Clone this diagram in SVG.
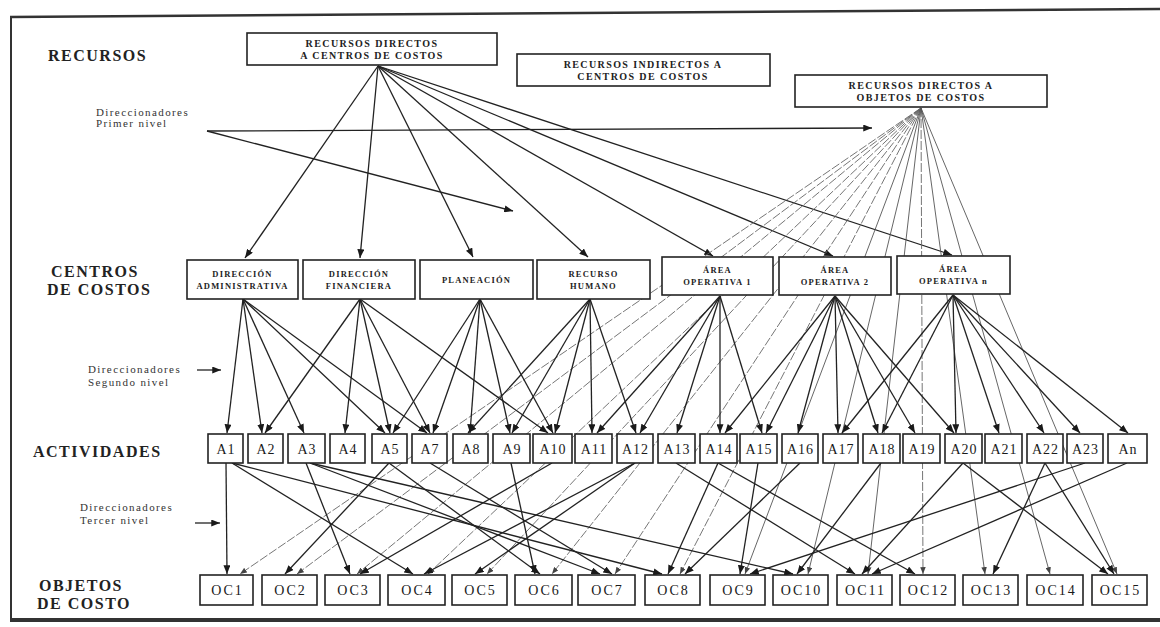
<svg xmlns="http://www.w3.org/2000/svg" width="1160" height="627" viewBox="0 0 1160 627">
<defs>
<marker id="ah" viewBox="0 0 10 8" refX="10" refY="4" markerWidth="9" markerHeight="7" orient="auto" markerUnits="userSpaceOnUse"><path d="M0,0 L10,4 L0,8 z" fill="#1a1a1a"/></marker>
<marker id="ahg" viewBox="0 0 10 8" refX="10" refY="4" markerWidth="7" markerHeight="5.5" orient="auto" markerUnits="userSpaceOnUse"><path d="M0,0 L10,4 L0,8 z" fill="#444"/></marker>
</defs>
<style>
.bx{fill:#fff;stroke:#222;stroke-width:1.6}
.lbl{font-family:"Liberation Serif",serif;font-weight:bold;font-size:16px;fill:#222;letter-spacing:1.5px}
.drv{font-family:"Liberation Serif",serif;font-size:11px;fill:#333;letter-spacing:1.4px}
.top{font-family:"Liberation Serif",serif;font-weight:bold;font-size:10px;letter-spacing:1.4px;text-anchor:middle;fill:#222}
.cc{font-family:"Liberation Serif",serif;font-weight:bold;font-size:8.5px;letter-spacing:1.2px;text-anchor:middle;fill:#222}
.act{font-family:"Liberation Serif",serif;font-size:14px;letter-spacing:1px;text-anchor:middle;fill:#1a1a1a}
.oc{font-family:"Liberation Serif",serif;font-size:14px;letter-spacing:2px;text-anchor:middle;fill:#1a1a1a}
.e{stroke:#222;stroke-width:1.3;fill:none;marker-end:url(#ah)}
.g{stroke:#555;stroke-width:0.9;fill:none;marker-end:url(#ahg)}
.gd{stroke:#666;stroke-width:0.9;fill:none;stroke-dasharray:9 2;marker-end:url(#ahg)}
.fr{stroke:#333;fill:none}
</style>
<rect width="1160" height="627" fill="#fff"/>
<g id="frame">
<line class="fr" x1="10" y1="17" x2="1160" y2="9" stroke-width="2.5"/>
<line class="fr" x1="11" y1="16" x2="11" y2="621" stroke-width="2"/>
<line class="fr" x1="10" y1="620" x2="1160" y2="620" stroke-width="4" stroke="#222"/>
</g>
<g id="labels">
<text class="lbl" x="48" y="61">RECURSOS</text>
<text class="drv" x="96" y="116">Direccionadores</text>
<text class="drv" x="96" y="127">Primer nivel</text>
<text class="lbl" x="51" y="277">CENTROS</text>
<text class="lbl" x="47" y="295">DE COSTOS</text>
<text class="drv" x="88" y="373">Direccionadores</text>
<text class="drv" x="88" y="386">Segundo nivel</text>
<text class="lbl" x="33" y="457">ACTIVIDADES</text>
<text class="drv" x="80" y="511">Direccionadores</text>
<text class="drv" x="80" y="524">Tercer nivel</text>
<text class="lbl" x="39" y="591">OBJETOS</text>
<text class="lbl" x="37" y="609">DE COSTO</text>
</g>
<g id="connectors">
<line class="e" x1="207" y1="131" x2="872" y2="128"/>
<line class="e" x1="207" y1="131" x2="513" y2="211"/>
<line class="e" x1="197" y1="370" x2="221" y2="370"/>
<line class="e" x1="195" y1="523" x2="220" y2="523"/>
<line class="e" x1="378" y1="66" x2="245" y2="258"/>
<line class="e" x1="378" y1="66" x2="360" y2="258"/>
<line class="e" x1="378" y1="66" x2="473" y2="257"/>
<line class="e" x1="378" y1="66" x2="588" y2="257"/>
<line class="e" x1="378" y1="66" x2="713" y2="256"/>
<line class="e" x1="378" y1="66" x2="833" y2="256"/>
<line class="e" x1="378" y1="66" x2="952" y2="255"/>
<line class="gd" x1="921" y1="108" x2="240" y2="574"/>
<line class="gd" x1="921" y1="108" x2="297" y2="574"/>
<line class="gd" x1="921" y1="108" x2="357" y2="574"/>
<line class="gd" x1="921" y1="108" x2="428" y2="574"/>
<line class="gd" x1="921" y1="108" x2="487" y2="574"/>
<line class="gd" x1="921" y1="108" x2="552" y2="574"/>
<line class="gd" x1="921" y1="108" x2="615" y2="574"/>
<line class="gd" x1="921" y1="108" x2="680" y2="574"/>
<line class="g" x1="921" y1="108" x2="745" y2="574"/>
<line class="g" x1="921" y1="108" x2="808" y2="574"/>
<line class="g" x1="921" y1="108" x2="868" y2="574"/>
<line class="gd" x1="921" y1="108" x2="923" y2="574"/>
<line class="g" x1="921" y1="108" x2="985" y2="574"/>
<line class="g" x1="921" y1="108" x2="1050" y2="574"/>
<line class="g" x1="921" y1="108" x2="1117" y2="574"/>
<line class="e" x1="243" y1="299" x2="227" y2="433"/>
<line class="e" x1="243" y1="299" x2="262" y2="433"/>
<line class="e" x1="243" y1="299" x2="304" y2="433"/>
<line class="e" x1="243" y1="299" x2="385" y2="433"/>
<line class="e" x1="243" y1="299" x2="427" y2="433"/>
<line class="e" x1="360" y1="299" x2="265" y2="433"/>
<line class="e" x1="360" y1="299" x2="345" y2="433"/>
<line class="e" x1="360" y1="299" x2="390" y2="433"/>
<line class="e" x1="360" y1="299" x2="430" y2="433"/>
<line class="e" x1="360" y1="299" x2="548" y2="433"/>
<line class="e" x1="480" y1="299" x2="393" y2="433"/>
<line class="e" x1="480" y1="299" x2="433" y2="433"/>
<line class="e" x1="480" y1="299" x2="470" y2="433"/>
<line class="e" x1="480" y1="299" x2="510" y2="433"/>
<line class="e" x1="480" y1="299" x2="553" y2="433"/>
<line class="e" x1="590" y1="299" x2="468" y2="433"/>
<line class="e" x1="590" y1="299" x2="512" y2="433"/>
<line class="e" x1="590" y1="299" x2="555" y2="433"/>
<line class="e" x1="590" y1="299" x2="592" y2="433"/>
<line class="e" x1="590" y1="299" x2="636" y2="433"/>
<line class="e" x1="720" y1="296" x2="597" y2="433"/>
<line class="e" x1="720" y1="296" x2="640" y2="433"/>
<line class="e" x1="720" y1="296" x2="677" y2="433"/>
<line class="e" x1="720" y1="296" x2="720" y2="433"/>
<line class="e" x1="720" y1="296" x2="762" y2="433"/>
<line class="e" x1="835" y1="296" x2="725" y2="433"/>
<line class="e" x1="835" y1="296" x2="766" y2="433"/>
<line class="e" x1="835" y1="296" x2="798" y2="433"/>
<line class="e" x1="835" y1="296" x2="838" y2="433"/>
<line class="e" x1="835" y1="296" x2="878" y2="433"/>
<line class="e" x1="835" y1="296" x2="915" y2="433"/>
<line class="e" x1="835" y1="296" x2="954" y2="433"/>
<line class="e" x1="953" y1="295" x2="842" y2="433"/>
<line class="e" x1="953" y1="295" x2="882" y2="433"/>
<line class="e" x1="953" y1="295" x2="956" y2="433"/>
<line class="e" x1="953" y1="295" x2="999" y2="433"/>
<line class="e" x1="953" y1="295" x2="1044" y2="433"/>
<line class="e" x1="953" y1="295" x2="1080" y2="433"/>
<line class="e" x1="953" y1="295" x2="1128" y2="433"/>
<line class="e" x1="226" y1="463" x2="227" y2="574"/>
<line class="e" x1="232" y1="463" x2="413" y2="574"/>
<line class="e" x1="232" y1="463" x2="662" y2="574"/>
<line class="e" x1="306" y1="463" x2="350" y2="574"/>
<line class="e" x1="310" y1="463" x2="600" y2="574"/>
<line class="e" x1="310" y1="463" x2="793" y2="574"/>
<line class="e" x1="389" y1="463" x2="285" y2="574"/>
<line class="e" x1="389" y1="463" x2="540" y2="574"/>
<line class="e" x1="430" y1="463" x2="612" y2="574"/>
<line class="e" x1="511" y1="463" x2="535" y2="574"/>
<line class="e" x1="552" y1="463" x2="360" y2="574"/>
<line class="e" x1="635" y1="463" x2="424" y2="574"/>
<line class="e" x1="635" y1="463" x2="475" y2="574"/>
<line class="e" x1="676" y1="463" x2="855" y2="574"/>
<line class="e" x1="718" y1="463" x2="668" y2="574"/>
<line class="e" x1="718" y1="463" x2="915" y2="574"/>
<line class="e" x1="758" y1="463" x2="740" y2="574"/>
<line class="e" x1="800" y1="463" x2="685" y2="574"/>
<line class="e" x1="881" y1="463" x2="797" y2="574"/>
<line class="e" x1="963" y1="463" x2="862" y2="574"/>
<line class="e" x1="963" y1="463" x2="1108" y2="574"/>
<line class="e" x1="1045" y1="463" x2="993" y2="574"/>
<line class="e" x1="1045" y1="463" x2="1114" y2="574"/>
<line class="e" x1="1085" y1="463" x2="750" y2="574"/>
<line class="e" x1="1127" y1="463" x2="872" y2="574"/>
</g>
<g id="rdcc"><rect class="bx" x="247" y="33" width="250" height="32"/><text class="top" x="372" y="47">RECURSOS DIRECTOS</text><text class="top" x="372" y="59">A CENTROS DE COSTOS</text></g>
<g id="ricc"><rect class="bx" x="517" y="54" width="253" height="32"/><text class="top" x="643" y="68">RECURSOS INDIRECTOS A</text><text class="top" x="643" y="80">CENTROS DE COSTOS</text></g>
<g id="rdoc"><rect class="bx" x="795" y="75" width="252" height="32"/><text class="top" x="921" y="89">RECURSOS DIRECTOS A</text><text class="top" x="921" y="101">OBJETOS DE COSTOS</text></g>
<g id="c-da"><rect class="bx" x="187" y="260" width="111" height="39"/><text class="cc" x="242.5" y="277">DIRECCIÓN</text><text class="cc" x="242.5" y="289">ADMINISTRATIVA</text></g>
<g id="c-df"><rect class="bx" x="303" y="260" width="112" height="39"/><text class="cc" x="359" y="277">DIRECCIÓN</text><text class="cc" x="359" y="289">FINANCIERA</text></g>
<g id="c-pl"><rect class="bx" x="420" y="260" width="113" height="39"/><text class="cc" x="476.5" y="283">PLANEACIÓN</text></g>
<g id="c-rh"><rect class="bx" x="537" y="260" width="113" height="39"/><text class="cc" x="593.5" y="277">RECURSO</text><text class="cc" x="593.5" y="289">HUMANO</text></g>
<g id="c-ao1"><rect class="bx" x="662" y="257" width="111" height="38"/><text class="cc" x="717.5" y="273">ÁREA</text><text class="cc" x="717.5" y="285">OPERATIVA 1</text></g>
<g id="c-ao2"><rect class="bx" x="779" y="257" width="112" height="38"/><text class="cc" x="835" y="273">ÁREA</text><text class="cc" x="835" y="285">OPERATIVA 2</text></g>
<g id="c-aon"><rect class="bx" x="897" y="256" width="113" height="38"/><text class="cc" x="953.5" y="272">ÁREA</text><text class="cc" x="953.5" y="284">OPERATIVA n</text></g>
<g id="act-a1"><rect class="bx" x="208" y="434" width="35" height="29"/><text class="act" x="226" y="454">A1</text></g>
<g id="act-a2"><rect class="bx" x="248" y="434" width="35" height="29"/><text class="act" x="266" y="454">A2</text></g>
<g id="act-a3"><rect class="bx" x="288" y="434" width="37" height="29"/><text class="act" x="307" y="454">A3</text></g>
<g id="act-a4"><rect class="bx" x="330" y="434" width="35" height="29"/><text class="act" x="348" y="454">A4</text></g>
<g id="act-a5"><rect class="bx" x="372" y="434" width="35" height="29"/><text class="act" x="390" y="454">A5</text></g>
<g id="act-a7"><rect class="bx" x="412" y="434" width="35" height="29"/><text class="act" x="430" y="454">A7</text></g>
<g id="act-a8"><rect class="bx" x="453" y="434" width="35" height="29"/><text class="act" x="471" y="454">A8</text></g>
<g id="act-a9"><rect class="bx" x="493" y="434" width="37" height="29"/><text class="act" x="512" y="454">A9</text></g>
<g id="act-a10"><rect class="bx" x="533" y="434" width="39" height="29"/><text class="act" x="553" y="454">A10</text></g>
<g id="act-a11"><rect class="bx" x="575" y="434" width="37" height="29"/><text class="act" x="594" y="454">A11</text></g>
<g id="act-a12"><rect class="bx" x="617" y="434" width="36" height="29"/><text class="act" x="635.5" y="454">A12</text></g>
<g id="act-a13"><rect class="bx" x="658" y="434" width="37" height="29"/><text class="act" x="677" y="454">A13</text></g>
<g id="act-a14"><rect class="bx" x="700" y="434" width="37" height="29"/><text class="act" x="719" y="454">A14</text></g>
<g id="act-a15"><rect class="bx" x="740" y="434" width="37" height="29"/><text class="act" x="759" y="454">A15</text></g>
<g id="act-a16"><rect class="bx" x="782" y="434" width="36" height="29"/><text class="act" x="800.5" y="454">A16</text></g>
<g id="act-a17"><rect class="bx" x="823" y="434" width="35" height="29"/><text class="act" x="841" y="454">A17</text></g>
<g id="act-a18"><rect class="bx" x="863" y="434" width="37" height="29"/><text class="act" x="882" y="454">A18</text></g>
<g id="act-a19"><rect class="bx" x="903" y="434" width="37" height="29"/><text class="act" x="922" y="454">A19</text></g>
<g id="act-a20"><rect class="bx" x="945" y="434" width="37" height="29"/><text class="act" x="964" y="454">A20</text></g>
<g id="act-a21"><rect class="bx" x="985" y="434" width="37" height="29"/><text class="act" x="1004" y="454">A21</text></g>
<g id="act-a22"><rect class="bx" x="1027" y="434" width="36" height="29"/><text class="act" x="1045.5" y="454">A22</text></g>
<g id="act-a23"><rect class="bx" x="1067" y="434" width="36" height="29"/><text class="act" x="1085.5" y="454">A23</text></g>
<g id="act-an"><rect class="bx" x="1108" y="434" width="39" height="29"/><text class="act" x="1128" y="454">An</text></g>
<g id="oc1"><rect class="bx" x="200" y="575" width="53" height="30"/><text class="oc" x="227.5" y="595">OC1</text></g>
<g id="oc2"><rect class="bx" x="262" y="575" width="55" height="30"/><text class="oc" x="290.5" y="595">OC2</text></g>
<g id="oc3"><rect class="bx" x="325" y="575" width="55" height="30"/><text class="oc" x="353.5" y="595">OC3</text></g>
<g id="oc4"><rect class="bx" x="388" y="575" width="57" height="30"/><text class="oc" x="417.5" y="595">OC4</text></g>
<g id="oc5"><rect class="bx" x="452" y="575" width="55" height="30"/><text class="oc" x="480.5" y="595">OC5</text></g>
<g id="oc6"><rect class="bx" x="515" y="575" width="57" height="30"/><text class="oc" x="544.5" y="595">OC6</text></g>
<g id="oc7"><rect class="bx" x="578" y="575" width="57" height="30"/><text class="oc" x="607.5" y="595">OC7</text></g>
<g id="oc8"><rect class="bx" x="645" y="575" width="55" height="30"/><text class="oc" x="673.5" y="595">OC8</text></g>
<g id="oc9"><rect class="bx" x="710" y="575" width="55" height="30"/><text class="oc" x="738.5" y="595">OC9</text></g>
<g id="oc10"><rect class="bx" x="773" y="575" width="55" height="30"/><text class="oc" x="801.5" y="595">OC10</text></g>
<g id="oc11"><rect class="bx" x="837" y="575" width="55" height="30"/><text class="oc" x="865.5" y="595">OC11</text></g>
<g id="oc12"><rect class="bx" x="900" y="575" width="55" height="30"/><text class="oc" x="928.5" y="595">OC12</text></g>
<g id="oc13"><rect class="bx" x="963" y="575" width="55" height="30"/><text class="oc" x="991.5" y="595">OC13</text></g>
<g id="oc14"><rect class="bx" x="1027" y="575" width="56" height="30"/><text class="oc" x="1056" y="595">OC14</text></g>
<g id="oc15"><rect class="bx" x="1092" y="575" width="55" height="30"/><text class="oc" x="1120.5" y="595">OC15</text></g>
</svg>
